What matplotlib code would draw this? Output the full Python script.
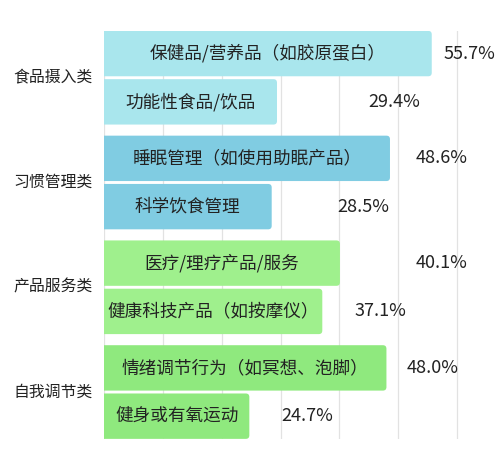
import matplotlib
matplotlib.use("Agg")
import matplotlib.pyplot as plt
import matplotlib.transforms as mtransforms
from matplotlib.patches import FancyBboxPatch

plt.rcParams['font.family'] = ['Noto Sans CJK SC', 'DejaVu Sans']

# data
groups = ["食品摄入类", "习惯管理类", "产品服务类", "自我调节类"]
items = ["保健品/营养品（如胶原蛋白）", "功能性食品/饮品",
         "睡眠管理（如使用助眠产品）", "科学饮食管理",
         "医疗/理疗产品/服务", "健康科技产品（如按摩仪）",
         "情绪调节行为（如冥想、泡脚）", "健身或有氧运动"]
values = [55.7, 29.4, 48.6, 28.5, 40.1, 37.1, 48.0, 24.7]
item_group = [0, 0, 1, 1, 2, 2, 3, 3]

# styling / layout
group_colors = ["#a9e6ed", "#80cce2", "#9ff08d", "#8fe97e"]
label_gap = [2.0, 15.5, 4.3, 11.2, 12.8, 5.4, 3.4, 5.4]  # how far the % label sits from bar end
group_space = 0.17
bar_h = 0.94
xmax = 67.3

ypos = [i + group_space * g for i, g in enumerate(item_group)]
colors = [group_colors[g] for g in item_group]

fig = plt.figure(figsize=(5, 4.61), dpi=100)
ax = fig.add_axes([0.208, 0.048, 0.792, 0.885])

for x in range(0, 70, 10):
    ax.axvline(x, color="#e2e2e2", lw=0.9, zorder=0)

bars = ax.barh(ypos, values, height=bar_h, color=colors, zorder=2)

ax.set_xlim(0, xmax)
ax.set_ylim(ypos[-1] + bar_h / 2, ypos[0] - bar_h / 2)

# swap plain bars for ones with slightly rounded right ends
bbox = ax.get_window_extent()
aspect = (bbox.width / xmax) / (bbox.height / (ypos[-1] - ypos[0] + bar_h))
r = 0.6
for b in bars:
    b.set_visible(False)
    p = FancyBboxPatch((b.get_x() - r, b.get_y()), b.get_width() + r, b.get_height(),
                       boxstyle=f"round,pad=0,rounding_size={r}", mutation_aspect=aspect,
                       facecolor=b.get_facecolor(), edgecolor="none", zorder=2)
    ax.add_patch(p)

for y, v, name, gap in zip(ypos, values, items, label_gap):
    ax.text(v / 2, y, name, ha="center", va="center", fontsize=12.7, color="#222222", zorder=3)
    ax.text(v + gap, y, f"{v:.1f}%", ha="left", va="center", fontsize=13, color="#222222", zorder=3)

trans = mtransforms.blended_transform_factory(ax.transAxes, ax.transData)
for g, name in enumerate(groups):
    ys = [y for y, ig in zip(ypos, item_group) if ig == g]
    ax.text(-0.028, sum(ys) / len(ys), name, transform=trans, ha="right", va="center",
            fontsize=11.4, color="#222222")

ax.set_xticks([])
ax.set_yticks([])
for s in ax.spines.values():
    s.set_visible(False)

fig.savefig("out.png", dpi=100)
